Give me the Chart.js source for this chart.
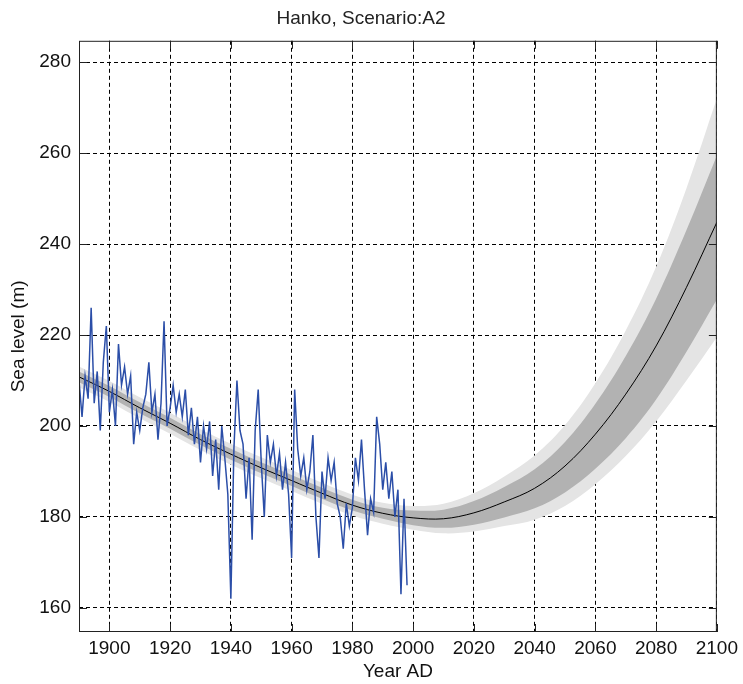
<!DOCTYPE html>
<html>
<head>
<meta charset="utf-8">
<script src="https://cdn.jsdelivr.net/npm/chart.js@4.4.1/dist/chart.umd.min.js"></script>
<style>
  html, body { margin: 0; padding: 0; background: #fff; }
</style>
</head>
<body>
<canvas id="c" width="743" height="684"></canvas>
<script>
// Observed annual mean sea level, Hanko (first year 1890)
const obsStart = 1890;
const obsLevel = [
  210, 202, 211, 206, 226, 205, 212, 199, 214, 222,   // 1890s
  203, 208, 200, 218, 209, 213, 207, 211, 196, 203,   // 1900s
  199, 204, 207, 214, 203, 207, 197, 205, 223, 200,   // 1910s
  204, 209, 203, 207, 202, 208, 198, 204, 196, 202,   // 1920s
  192, 200, 195, 201, 189, 197, 186, 200, 193, 185,   // 1930s
  162, 195, 210, 199, 196, 184, 193, 175, 199, 208,   // 1940s
  192, 180, 198, 192, 196, 189, 194, 186, 192, 185,   // 1950s
  171, 208, 195, 189, 193, 186, 190, 198, 180, 171,   // 1960s
  190, 184, 193, 188, 192, 183, 180, 173, 183, 178,   // 1970s
  182, 193, 188, 197, 186, 176, 184, 181, 202, 196,   // 1980s
  186, 192, 184, 190, 180, 186, 163, 184, 165         // 1990s
];

// Trend / scenario A2 projection with uncertainty bands
const bandYears = [1890, 1900, 1910, 1920, 1930, 1940, 1950, 1960, 1970, 1980, 1990,
                   2000, 2010, 2020, 2030, 2040, 2050, 2060, 2070, 2080, 2090, 2100];
const trend   = [210.8, 207.6, 204.0, 200.6, 197.0, 193.8, 190.8, 188.0, 185.2, 182.6, 180.8,
                 179.8, 179.6, 180.9, 183.3, 186.3, 191.2, 198.2, 207.0, 217.6, 230.5, 244.8];
const darkLo  = [209.6, 206.4, 202.8, 199.4, 195.8, 192.6, 189.6, 186.8, 184.0, 181.4, 179.6,
                 178.2, 177.6, 178.3, 179.9, 181.9, 185.4, 190.6, 197.3, 205.8, 216.3, 227.8];
const darkHi  = [212.0, 208.8, 205.2, 201.8, 198.2, 195.0, 192.0, 189.2, 186.4, 183.8, 182.0,
                 181.4, 181.6, 183.5, 186.6, 190.5, 196.5, 204.9, 215.4, 228.0, 243.1, 259.5];
const lightLo = [208.5, 205.3, 201.7, 198.3, 194.7, 191.5, 188.5, 185.7, 182.9, 180.3, 178.5,
                 177.2, 176.4, 176.8, 178.0, 179.4, 182.4, 187.2, 193.4, 201.0, 210.0, 219.5];
const lightHi = [213.1, 209.9, 206.3, 202.9, 199.3, 196.1, 193.1, 190.3, 187.5, 184.9, 183.1,
                 182.4, 182.9, 185.2, 188.9, 193.5, 200.2, 209.4, 221.0, 235.0, 252.3, 272.0];

const xTicks = [1900, 1920, 1940, 1960, 1980, 2000, 2020, 2040, 2060, 2080, 2100];
const yTicks = [160, 180, 200, 220, 240, 260, 280];

const FONT = "'Liberation Sans', Arial, sans-serif";

const pts = (xs, ys) => ys.map((v, i) => ({ x: xs[i], y: v }));
const obsPts = obsLevel.map((v, i) => ({ x: obsStart + i, y: v }));

// box frame + inward tick marks, like the original plot
const framePlugin = {
    id: 'frame',
    afterDraw(chart) {
        const { ctx, chartArea: a, scales: { x, y } } = chart;
        const t = 8;
        ctx.save();
        ctx.strokeStyle = '#222';
        ctx.lineWidth = 1;
        ctx.strokeRect(a.left + 0.5, a.top + 0.5, a.width - 1, a.height - 1);
        ctx.beginPath();
        xTicks.forEach(v => {
            const px = Math.round(x.getPixelForValue(v)) + 0.5;
            ctx.moveTo(px, a.bottom); ctx.lineTo(px, a.bottom - t);
            ctx.moveTo(px, a.top); ctx.lineTo(px, a.top + t);
        });
        yTicks.forEach(v => {
            const py = Math.round(y.getPixelForValue(v)) + 0.5;
            ctx.moveTo(a.left, py); ctx.lineTo(a.left + t, py);
            ctx.moveTo(a.right, py); ctx.lineTo(a.right - t, py);
        });
        ctx.stroke();
        ctx.restore();
    }
};

const bandLine = { pointRadius: 0, borderWidth: 0, tension: 0.35 };

new Chart(document.getElementById('c'), {
    type: 'line',
    data: {
        datasets: [
            { label: 'observed', data: obsPts, borderColor: '#2b4ea8', borderWidth: 1.5,
              pointRadius: 0, fill: false, order: 0 },
            { label: 'trend', data: pts(bandYears, trend), borderColor: '#000', borderWidth: 1,
              pointRadius: 0, fill: false, tension: 0.35, order: 1 },
            { label: 'darkHi', data: pts(bandYears, darkHi), ...bandLine,
              fill: '+1', backgroundColor: '#b2b2b2', order: 2 },
            { label: 'darkLo', data: pts(bandYears, darkLo), ...bandLine, fill: false, order: 3 },
            { label: 'lightHi', data: pts(bandYears, lightHi), ...bandLine,
              fill: '+1', backgroundColor: '#e4e4e4', order: 4 },
            { label: 'lightLo', data: pts(bandYears, lightLo), ...bandLine, fill: false, order: 5 },
        ],
    },
    options: {
        responsive: false,
        animation: false,
        layout: { padding: { left: 0, right: 21, top: 0, bottom: 0 } },
        plugins: {
            legend: { display: false },
            tooltip: { enabled: false },
            title: {
                display: true,
                text: 'Hanko, Scenario:A2',
                color: '#222',
                font: { family: FONT, size: 19, weight: 'normal' },
                padding: { top: 7, bottom: 11 },
            },
        },
        scales: {
            x: {
                type: 'linear', min: 1890, max: 2100, z: 1,
                afterBuildTicks: s => { s.ticks = xTicks.map(v => ({ value: v })); },
                afterFit: s => { s.height = 52; },
                grid: { color: '#000', lineWidth: 1, drawTicks: false },
                border: { display: false, dash: [4, 3] },
                ticks: { color: '#111', font: { family: FONT, size: 19 }, padding: 5,
                         maxRotation: 0, autoSkip: false, callback: v => String(v) },
                title: { display: true, text: 'Year AD', color: '#111',
                         font: { family: FONT, size: 19 }, padding: { top: 0, bottom: 1 } },
            },
            y: {
                type: 'linear', min: 154.7, max: 284.7, z: 1,
                afterBuildTicks: s => { s.ticks = yTicks.map(v => ({ value: v })); },
                afterFit: s => { s.width = 79; },
                grid: { color: '#000', lineWidth: 1, drawTicks: false },
                border: { display: false, dash: [4, 3] },
                ticks: { color: '#111', font: { family: FONT, size: 19 }, padding: 8,
                         callback: v => String(v) },
                title: { display: true, text: 'Sea level (m)', color: '#111',
                         font: { family: FONT, size: 19 }, padding: { top: 7, bottom: 0 } },
            },
        },
    },
    plugins: [framePlugin],
});
</script>
</body>
</html>
